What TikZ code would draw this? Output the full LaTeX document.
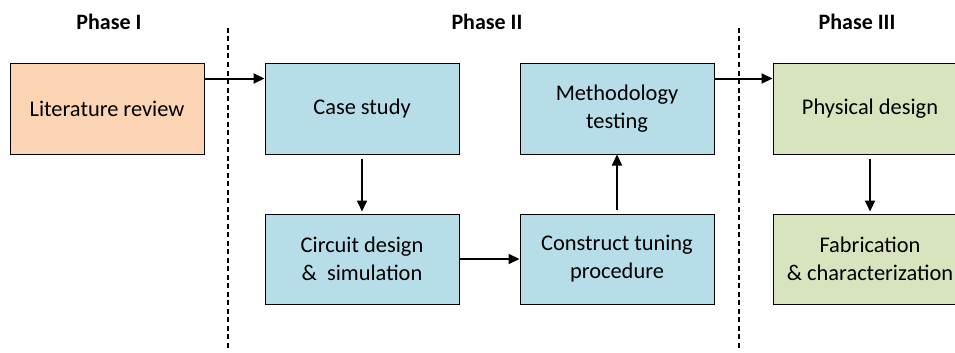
\documentclass[tikz,border=0pt]{standalone}
\usepackage{fontspec}
\setmainfont{Carlito}
\usepackage{tikz}
\usetikzlibrary{arrows.meta, positioning}

\definecolor{litfill}{HTML}{FBD4B4}
\definecolor{blufill}{HTML}{B7DDE8}
\definecolor{grnfill}{HTML}{D7E4BD}

\begin{document}
\begin{tikzpicture}[
      x=1pt, y=-1pt,
      font=\fontsize{22.4}{28}\selectfont,
      box/.style={rectangle, draw, line width=1pt, minimum width=194pt, minimum height=90pt, align=center, inner sep=0pt},
      phase/.style={font=\fontsize{22}{26}\selectfont\bfseries},
      edge/.style={-{Triangle[length=11pt, width=10pt]}, line width=2pt},
      divider/.style={line width=1.3pt, dash pattern=on 5pt off 3.5pt}
    ]
    \useasboundingbox (0,0) rectangle (955,353);
    \node[box, fill=litfill] (lit) at (107,109) {Literature review};
    \node[box, fill=blufill, right=60pt of lit] (case) {Case study};
    \node[box, fill=blufill, right=60pt of case] (meth) {Methodology\\testing};
    \node[box, fill=grnfill, right=58pt of meth] (phys) {Physical design};
    \node[box, fill=blufill, below=59pt of case] (circ) {Circuit design\\\&~ simulation};
    \node[box, fill=blufill, below=59pt of meth] (cons) {Construct tuning\\procedure};
    \node[box, fill=grnfill, below=59pt of phys] (fab) {Fabrication\\\& characterization};
    \node[phase] (p1) at (109,22) {Phase I};
    \node[phase] (p2) at (487,22) {Phase II};
    \node[phase] (p3) at (857,22) {Phase III};
    \draw[divider] (228,28) -- (228,350);
    \draw[divider] (739,28) -- (739,350);
    \draw[edge] ([yshift=-15pt]lit.north east) -- ([yshift=-15pt]case.north west);
    \draw[edge] ([yshift=-15pt]meth.north east) -- ([yshift=-15pt]phys.north west);
    \draw[edge, shorten <=4pt, shorten >=2pt] (case) -- (circ);
    \draw[edge] (circ) -- (cons);
    \draw[edge, shorten <=4pt] (cons) -- (meth);
    \draw[edge, shorten <=4pt, shorten >=2pt] (phys) -- (fab);
    \end{tikzpicture}
\end{document}
